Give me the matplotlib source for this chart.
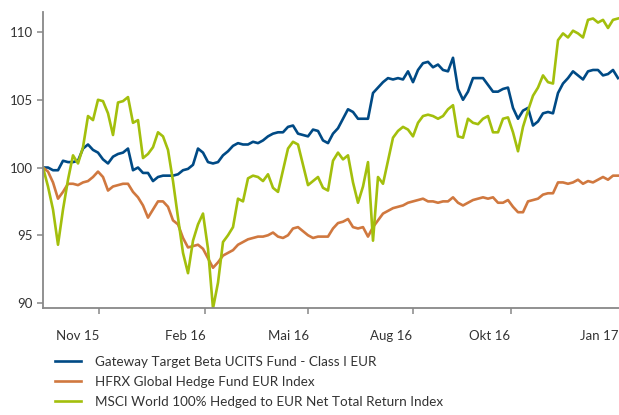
import numpy as np
import matplotlib
matplotlib.use("Agg")
import matplotlib.pyplot as plt

# indexed performance, one value per sampling step
gateway = [
    100.0, 100.0, 99.8, 99.8, 100.5, 100.4, 100.4, 100.5, 101.4, 101.7,
    101.3, 101.1, 100.6, 100.3, 100.8, 101.0, 101.1, 101.4, 99.8, 100.0,
    99.6, 99.6, 99.0, 99.3, 99.4, 99.4, 99.4, 99.5, 99.8, 99.9,
    100.2, 101.4, 101.1, 100.4, 100.3, 100.4, 100.9, 101.2, 101.6, 101.8,
    101.7, 101.7, 101.9, 101.8, 102.0, 102.3, 102.5, 102.6, 102.6, 103.0,
    103.1, 102.5, 102.4, 102.3, 102.8, 102.7, 102.0, 101.8, 102.5, 102.9,
    103.6, 104.3, 104.1, 103.6, 103.6, 103.6, 105.5, 105.9, 106.3, 106.6,
    106.5, 106.6, 106.5, 107.1, 106.3, 107.2, 107.7, 107.8, 107.4, 107.6,
    107.2, 107.1, 108.1, 105.8, 105.0, 105.6, 106.6, 106.6, 106.6, 106.1,
    105.6, 105.6, 105.8, 105.9, 104.4, 103.6, 104.2, 104.4, 103.1, 103.4,
    104.0, 104.1, 104.0, 105.5, 106.2, 106.6, 107.1, 106.8, 106.5, 107.1,
    107.2, 107.2, 106.8, 106.9, 107.2, 106.6,
]
hfrx = [
    100.0, 99.7, 98.9, 97.7, 98.2, 98.8, 98.8, 98.7, 98.9, 99.0,
    99.3, 99.7, 99.3, 98.3, 98.6, 98.7, 98.8, 98.8, 98.2, 97.8,
    97.2, 96.3, 96.9, 97.5, 97.5, 97.1, 96.1, 95.8, 94.8, 94.1,
    94.2, 94.3, 94.0, 93.3, 92.6, 93.0, 93.5, 93.7, 93.9, 94.3,
    94.5, 94.7, 94.8, 94.9, 94.9, 95.0, 95.2, 94.9, 94.8, 95.0,
    95.5, 95.6, 95.3, 95.0, 94.8, 94.9, 94.9, 94.9, 95.5, 95.9,
    96.0, 96.2, 95.6, 95.5, 95.6, 94.9, 95.6, 96.1, 96.6, 96.8,
    97.0, 97.1, 97.2, 97.4, 97.5, 97.6, 97.7, 97.5, 97.5, 97.4,
    97.5, 97.5, 97.8, 97.4, 97.2, 97.4, 97.6, 97.7, 97.8, 97.7,
    97.8, 97.4, 97.4, 97.6, 97.1, 96.7, 96.7, 97.5, 97.6, 97.7,
    98.0, 98.1, 98.1, 98.9, 98.9, 98.8, 98.9, 99.1, 98.8, 99.0,
    98.9, 99.1, 99.3, 99.1, 99.4, 99.4,
]
msci = [
    100.0, 98.6, 96.9, 94.3, 96.9, 99.1, 100.9, 100.3, 101.5, 103.8,
    103.5, 105.0, 104.9, 104.0, 102.4, 104.8, 104.9, 105.2, 103.3, 103.5,
    100.7, 101.0, 101.5, 102.6, 102.3, 101.3, 99.0, 96.3, 93.7, 92.2,
    94.6, 95.8, 96.6, 94.0, 89.6, 91.5, 94.5, 95.0, 95.6, 97.7,
    97.5, 99.2, 99.4, 99.3, 99.0, 99.5, 98.5, 98.2, 99.8, 101.4,
    101.9, 101.7, 100.2, 98.7, 99.0, 99.3, 98.5, 98.3, 100.5, 101.1,
    100.6, 100.9, 98.9, 97.4, 98.6, 100.4, 94.6, 99.3, 98.8, 100.5,
    102.2, 102.7, 103.0, 102.8, 102.3, 103.3, 103.8, 103.9, 103.8, 103.6,
    103.8, 104.3, 104.6, 102.3, 102.2, 103.6, 103.3, 103.2, 103.6, 103.8,
    102.6, 102.6, 103.6, 103.7, 102.6, 101.2, 103.0, 104.2, 105.3, 105.9,
    106.8, 106.3, 106.2, 109.4, 109.9, 109.6, 110.1, 109.9, 109.6, 110.9,
    111.0, 110.7, 110.9, 110.3, 110.9, 111.0,
]

names = [
    "Gateway Target Beta UCITS Fund - Class I EUR",
    "HFRX Global Hedge Fund EUR Index",
    "MSCI World 100% Hedged to EUR Net Total Return Index",
]
colors = ["#004a85", "#d0783f", "#a3bf0c"]

month_labels = ["Nov 15", "Feb 16", "Mai 16", "Aug 16", "Okt 16", "Jan 17"]
label_pos = [7.0, 28.4, 49.2, 69.6, 89.4, 111.2]
tick_pos = [11.2, 32.4, 53.0, 74.0, 93.6]

plt.rcParams["font.family"] = ["Lato", "DejaVu Sans"]

fig = plt.figure(figsize=(6.19, 4.15), dpi=100)
ax = fig.add_axes([43 / 619, 107 / 415, 576 / 619, 296 / 415])

x = np.arange(len(gateway))
for series, name, col in zip([gateway, hfrx, msci], names, colors):
    ax.plot(x, series, color=col, lw=1.9, label=name, solid_joinstyle="round")

ax.set_xlim(0, 115.2)
ax.set_ylim(89.63, 111.48)
ax.set_yticks([90, 95, 100, 105, 110])

ax.set_xticks(label_pos)
ax.set_xticklabels(month_labels)
ax.set_xticks(tick_pos, minor=True)
ax.tick_params(axis="x", which="major", length=0, pad=16, labelsize=9.5,
               labelcolor="#333333")
ax.tick_params(axis="x", which="minor", length=4.5, width=1.1, color="#888888")
ax.tick_params(axis="y", length=4.5, width=1.1, color="#888888", pad=3,
               labelsize=9.5, labelcolor="#333333")

for side in ["top", "right"]:
    ax.spines[side].set_visible(False)
for side in ["left", "bottom"]:
    ax.spines[side].set_color("#888888")
    ax.spines[side].set_linewidth(1.3)

fig.legend(loc="upper left", bbox_to_anchor=(55 / 619, 1 - 356 / 415),
           frameon=False, fontsize=9.7, handlelength=1.95, handletextpad=1.0,
           labelspacing=0.58, borderpad=0, borderaxespad=0, labelcolor="#333333")

fig.savefig("out.png", dpi=100)
